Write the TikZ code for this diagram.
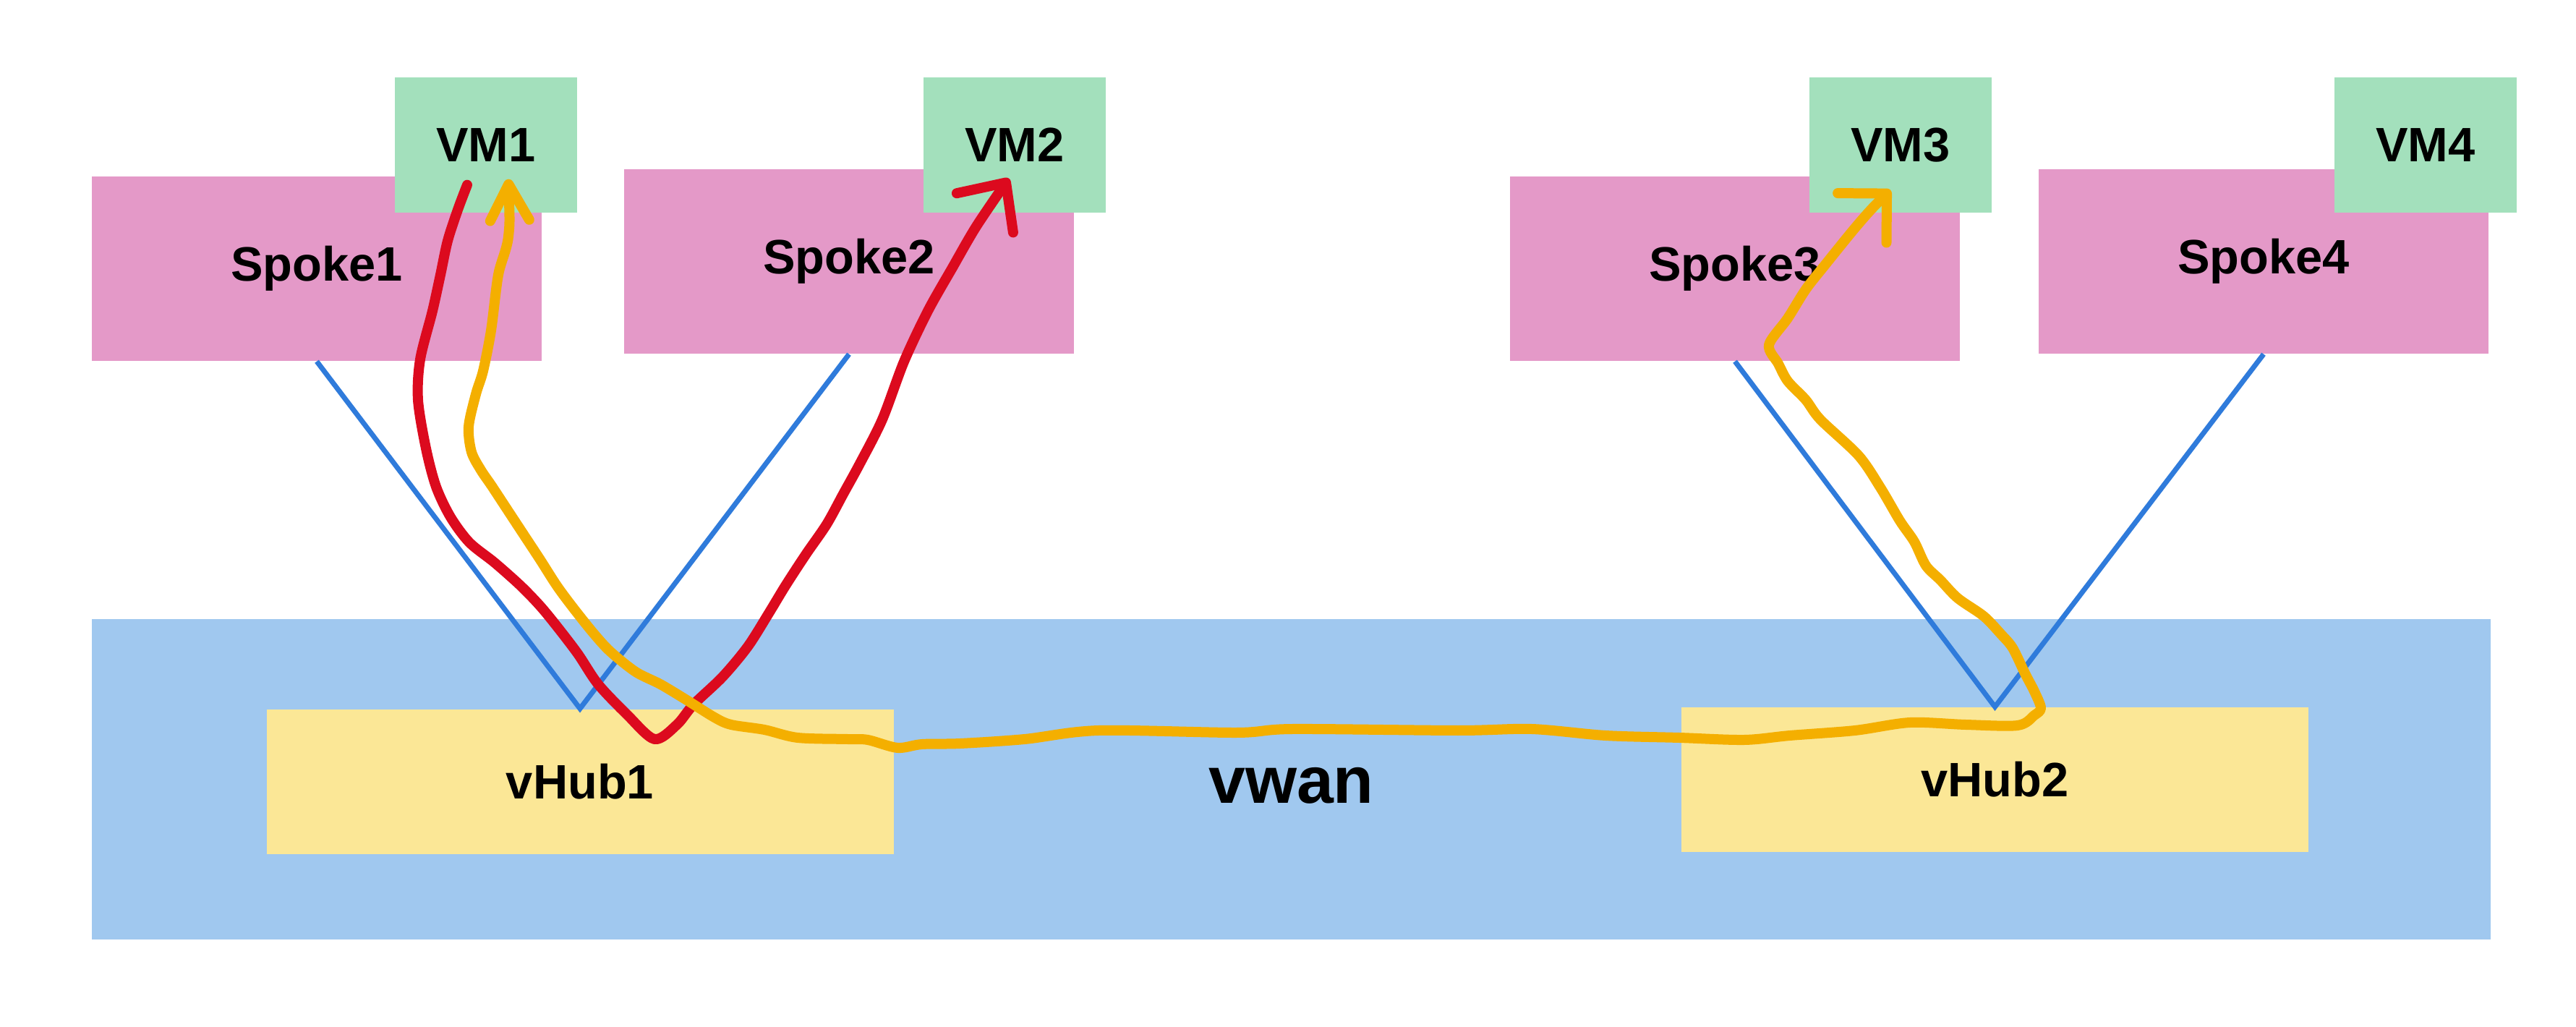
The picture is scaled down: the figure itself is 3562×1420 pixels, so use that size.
\documentclass[tikz,border=0pt]{standalone}
\usepackage{fontspec}
\setmainfont{Liberation Sans}
\usetikzlibrary{arrows.meta}

\definecolor{vwanblue}{HTML}{A0C8EF}
\definecolor{hubyellow}{HTML}{FBE796}
\definecolor{spokepink}{HTML}{E499C8}
\definecolor{vmgreen}{HTML}{A3E0BC}
\definecolor{linkblue}{HTML}{2F7BDB}
\definecolor{routered}{HTML}{DC0A1E}
\definecolor{routeamber}{HTML}{F4AF00}

\tikzset{
    box/.style={rectangle, inner sep=0pt, font=\fontsize{19}{23}\selectfont\bfseries},
    spokebox/.style={box, fill=spokepink, minimum width=62.2mm, minimum height=25.5mm},
    vmbox/.style={box, fill=vmgreen, minimum width=25.2mm, minimum height=18.7mm},
    hubbox/.style={box, fill=hubyellow, minimum width=86.7mm, minimum height=20mm},
    link/.style={draw=linkblue, line width=0.7mm},
    route/.style={line width=1.4mm, line cap=round, line join=round},
}

\begin{document}
\begin{tikzpicture}[x=0.1mm, y=-0.1mm]
    \useasboundingbox (0,0) rectangle (3562,1420);

    %% WAN with its two hubs
    \node[box, fill=vwanblue, minimum width=331.7mm, minimum height=44.3mm,
          font=\fontsize{26}{31}\selectfont\bfseries, text height=6.6mm, text depth=0pt]
          (vwan) at (1785.5,1077.5) {vwan};
    \node[hubbox] (hub1) at (802,1080.5) {vHub1};
    \node[hubbox] (hub2) at (2758.5,1078) {vHub2};

    %% spokes and their VMs
    \node[spokebox] (spoke1) at (438,371.5) {Spoke1};
    \node[spokebox] (spoke2) at (1174,361.5) {Spoke2};
    \node[spokebox] (spoke3) at (2399,371.5) {Spoke3};
    \node[spokebox] (spoke4) at (3130,361.5) {Spoke4};

    \node[vmbox] (vm1) at (672,200.5) {VM1};
    \node[vmbox] (vm2) at (1403,200.5) {VM2};
    \node[vmbox] (vm3) at (2628,200.5) {VM3};
    \node[vmbox] (vm4) at (3354,200.5) {VM4};

    %% spoke connections
    \draw[link] (spoke1.south) -- (hub1.north) -- (spoke2.south);
    \draw[link] (spoke3.south) -- (hub2.north) -- (spoke4.south);

    %% route ends
    \coordinate (red-a) at ([xshift=-2.6mm, yshift=3.9mm]vm1.south);
    \coordinate (red-b) at ([xshift=-0.8mm, yshift=4.8mm]vm2.south);
    \coordinate (amb-a) at ([xshift=3.1mm, yshift=4.7mm]vm1.south);
    \coordinate (amb-b) at ([xshift=-1.4mm, yshift=3.2mm]vm3.south);

    %% VM1 -> VM2 through vHub1
    \draw[route, routered, -{Straight Barb[length=5.1mm, width=9.5mm, round]}]
        plot[smooth, tension=0.5] coordinates {(red-a) (633,290) (619,333) (609,380)
        (598,430) (581,497) (578,553) (589,620) (603,673) (623,715) (649,750) (684,778)
        (720,810) (747,838) (770,866) (799,904) (827,946) (867,988) (905,1022) (936,1002)
        (959,974) (999,936) (1034,894) (1063,848) (1086,810) (1114,767) (1143,725)
        (1166,683) (1189,641) (1220,580) (1250,500) (1283,430) (1317,370) (1350,313) (red-b)};

    %% VM1 <-> VM3 across the WAN
    \draw[route, routeamber, {Straight Barb[length=5mm, width=5.4mm, round]}-{Straight Barb[length=4.8mm, width=9.6mm, round]}]
        plot[smooth, tension=0.5] coordinates {(amb-a) (703,327) (689,380) (679,457)
        (668,513) (658,545) (648,590) (652,625) (665,650) (680,672) (701,704) (724,739)
        (747,774) (770,810) (793,841) (821,876) (844,901) (879,929) (913,946) (948,967)
        (988,992) (1011,1002) (1057,1009) (1103,1020) (1172,1022) (1200,1023) (1241,1034)
        (1275,1029) (1328,1028) (1417,1022) (1519,1010) (1710,1013) (1787,1008) (2016,1010)
        (2118,1008) (2220,1017) (2322,1020) (2412,1023) (2475,1017) (2565,1010) (2641,999)
        (2718,1002) (2790,1003) (2813,989) (2822,979) (2813,956) (2800,931) (2783,896)
        (2767,877) (2743,852) (2707,827) (2683,802) (2663,782) (2647,749) (2627,720)
        (2600,674) (2570,630) (2517,580) (2497,553) (2472,527) (2459,503) (2446,477)
        (2472,440) (2497,400) (2523,367) (2561,320) (2587,290) (amb-b)};
\end{tikzpicture}
\end{document}
